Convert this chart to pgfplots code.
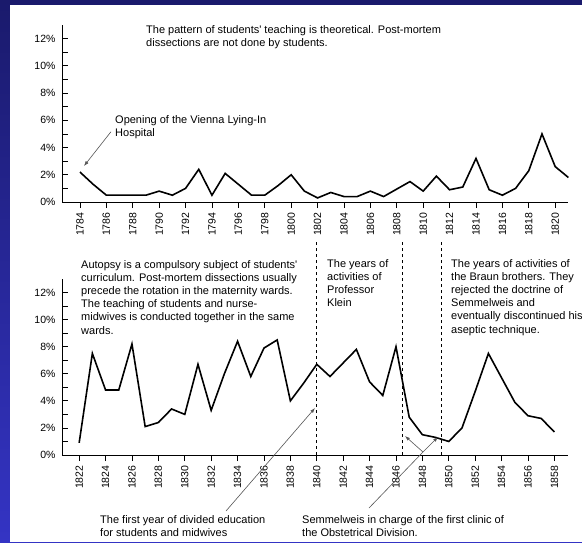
\documentclass[border=0pt]{standalone}
\usepackage{pgfplots}
\pgfplotsset{compat=1.18}
\usepackage{fontspec}
\setmainfont{Liberation Sans}
\usetikzlibrary{arrows.meta}

\definecolor{navy}{RGB}{26,26,108}
\definecolor{slideblue}{RGB}{52,52,196}
\definecolor{arr}{RGB}{85,85,85}

\newcommand{\annfont}{\fontsize{11}{13.2}\selectfont}
\newcommand{\tickfont}{\fontsize{10.5}{12}\selectfont}

\pgfplotstableread{
year rate
1784 2.2
1785 1.3
1786 0.5
1787 0.5
1788 0.5
1789 0.5
1790 0.8
1791 0.5
1792 1.0
1793 2.4
1794 0.5
1795 2.1
1796 1.3
1797 0.5
1798 0.5
1799 1.2
1800 2.0
1801 0.8
1802 0.3
1803 0.7
1804 0.4
1805 0.4
1806 0.8
1807 0.4
1808 0.95
1809 1.5
1810 0.8
1811 1.9
1812 0.9
1813 1.1
1814 3.2
1815 0.9
1816 0.5
1817 1.0
1818 2.3
1819 5.0
1820 2.6
1821 1.8
}\firstperiod

\pgfplotstableread{
year rate
1822 0.9
1823 7.5
1824 4.8
1825 4.8
1826 8.2
1827 2.1
1828 2.4
1829 3.4
1830 3.0
1831 6.7
1832 3.3
1833 6.0
1834 8.4
1835 5.8
1836 7.9
1837 8.5
1838 4.0
1839 5.3
1840 6.7
1841 5.8
1842 6.8
1843 7.8
1844 5.4
1845 4.4
1846 8.0
1847 2.8
1848 1.5
1849 1.3
1850 1.0
1851 2.0
1852 4.7
1853 7.5
1854 5.7
1855 3.9
1856 2.9
1857 2.7
1858 1.7
}\secondperiod

\pgfplotsset{
  semmel/.style={
    scale only axis, width=506pt, clip=false,
    anchor=south west,
    axis x line*=bottom, axis y line*=left,
    axis line style={line width=0.9pt},
    ymin=0, ymax=13,
    ytick={0,2,...,12},
    yticklabels={0\%,2\%,4\%,6\%,8\%,10\%,12\%},
    minor y tick num=1, minor x tick num=1,
    major tick length=6pt, minor tick length=6pt,
    every tick/.style={black, line width=0.8pt},
    x tick style={yshift=-6pt},
    /pgf/number format/assume math mode=true,
    /pgf/number format/1000 sep={},
    x tick label style={rotate=90, anchor=east, font=\tickfont},
    y tick label style={font=\tickfont},
    xticklabel shift=7pt,
    yticklabel shift=3pt,
  }
}

\begin{document}
\begin{tikzpicture}
\useasboundingbox (0,0) rectangle (582pt,-542pt);
\shade[top color=navy, bottom color=slideblue] (0,0) rectangle (582pt,-542pt);
\fill[white] (10pt,-5pt) rectangle (582pt,-542pt);

\begin{axis}[semmel, at={(62pt,-202pt)}, height=177pt,
  xmin=1782.64, xmax=1820.97, xtick={1784,1786,...,1820}]
\addplot[black, line width=1.6pt, mark=none] table[x=year, y=rate] {\firstperiod};
\end{axis}

\begin{axis}[semmel, at={(62pt,-455pt)}, height=176pt,
  xmin=1820.7, xmax=1859.03, xtick={1822,1824,...,1858}]
\addplot[black, line width=1.6pt, mark=none] table[x=year, y=rate] {\secondperiod};
\draw[black, line width=0.8pt, dash pattern=on 3.5pt off 2.5pt] (axis cs:1840,0) -- (axis cs:1840,15.9);
\draw[black, line width=0.8pt, dash pattern=on 3.5pt off 2.5pt] (axis cs:1846.5,0) -- (axis cs:1846.5,15.9);
\draw[black, line width=0.8pt, dash pattern=on 3.5pt off 2.5pt] (axis cs:1849.45,0) -- (axis cs:1849.45,15.9);
\end{axis}

\node[anchor=north west, inner sep=0, align=left, font=\annfont] at (146pt,-25.5pt)
  {The pattern of students\textquotesingle\ teaching is theoretical. Post-mortem\\dissections are not done by students.};
\node[anchor=north west, inner sep=0, align=left, font=\annfont] at (115pt,-115pt)
  {Opening of the Vienna Lying-In\\Hospital};
\node[anchor=north west, inner sep=0, align=left, font=\annfont] at (81pt,-260pt)
  {Autopsy is a compulsory subject of students\textquotesingle\\curriculum. Post-mortem dissections usually\\precede the rotation in the maternity wards.\\The teaching of students and nurse-\\midwives is conducted together in the same\\wards.};
\node[anchor=north west, inner sep=0, align=left, font=\annfont] at (327pt,-259pt)
  {The years of\\activities of\\Professor\\Klein};
\node[anchor=north west, inner sep=0, align=left, font=\annfont] at (451pt,-259pt)
  {The years of activities of\\the Braun brothers. They\\rejected the doctrine of\\Semmelweis and\\eventually discontinued his\\aseptic technique.};
\node[anchor=north west, inner sep=0, align=left, font=\annfont] at (100pt,-515pt)
  {The first year of divided education\\for students and midwives};
\node[anchor=north west, inner sep=0, align=left, font=\annfont] at (302pt,-515pt)
  {Semmelweis in charge of the first clinic of\\the Obstetrical Division.};

\draw[arr, line width=0.6pt, -{Latex[length=5pt,width=3.5pt]}] (111pt,-131.7pt) -- (84pt,-166pt);
\draw[arr, line width=0.6pt, -{Latex[length=5pt,width=3.5pt]}] (226pt,-511pt) -- (315pt,-408pt);
\draw[arr, line width=0.6pt] (369pt,-508pt) -- (423pt,-452pt);
\draw[arr, line width=0.6pt, -{Latex[length=5pt,width=3.5pt]}] (423pt,-452pt) -- (405pt,-436pt);
\draw[arr, line width=0.6pt, -{Latex[length=5pt,width=3.5pt]}] (423pt,-452pt) -- (438pt,-437pt);
\end{tikzpicture}
\end{document}
